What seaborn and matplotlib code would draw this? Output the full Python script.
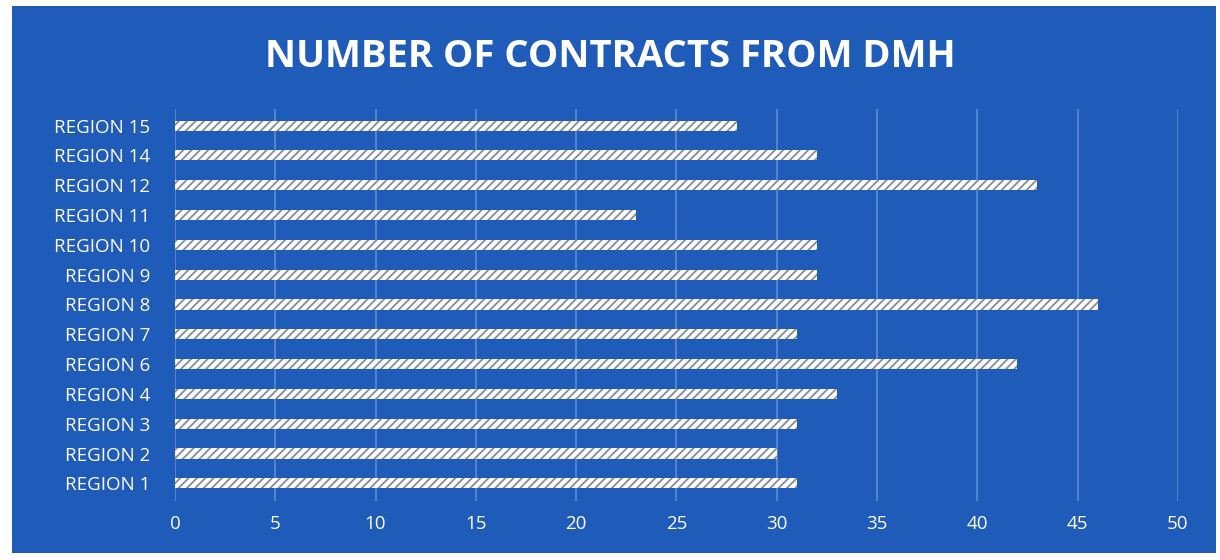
import matplotlib
matplotlib.use("Agg")
import matplotlib.pyplot as plt
import seaborn as sns
import pandas as pd
from matplotlib.patches import Rectangle

regions = ["REGION 15", "REGION 14", "REGION 12", "REGION 11", "REGION 10",
           "REGION 9", "REGION 8", "REGION 7", "REGION 6", "REGION 4",
           "REGION 3", "REGION 2", "REGION 1"]
contracts = [28, 32, 43, 23, 32, 32, 46, 31, 42, 33, 31, 30, 31]
x_ticks = [0, 5, 10, 15, 20, 25, 30, 35, 40, 45, 50]
title = "NUMBER OF CONTRACTS FROM DMH"

df = pd.DataFrame({"region": regions, "contracts": contracts})

BLUE = "#1f5bb8"
sns.set_theme(style="white")
plt.rcParams["font.family"] = ["Open Sans", "DejaVu Sans"]
plt.rcParams["hatch.linewidth"] = 1.3

fig = plt.figure(figsize=(12.2, 5.6), dpi=100, facecolor="white")
fig.patches.append(Rectangle((0.010, 0.012), 0.987, 0.978, transform=fig.transFigure,
                             facecolor=BLUE, edgecolor="none", zorder=-10))
ax = fig.add_axes([0.1434, 0.105, 0.822, 0.70])
ax.set_facecolor(BLUE)

sns.barplot(data=df, y="region", x="contracts", orient="h", ax=ax,
            color="white", width=0.34, saturation=1, order=regions)
for p in ax.patches:
    p.set_hatch("////")
    p.set_edgecolor("#858b9c")
    p.set_linewidth(0)

ax.set_xlim(0, 50)
ax.set_ylim(12.6, -0.55)
ax.set_xticks(x_ticks)
ax.set_xticklabels([str(t) for t in x_ticks], color="white", fontsize=13.5)
ax.set_yticklabels(regions, color="white", fontsize=13.5)
ax.tick_params(axis="both", length=0)
ax.tick_params(axis="y", pad=18)
ax.tick_params(axis="x", pad=10)
ax.set_xlabel("")
ax.set_ylabel("")
ax.grid(axis="x", color="#5f8fd8", linewidth=1.1)
ax.set_axisbelow(True)
for s in ax.spines.values():
    s.set_visible(False)

fig.text(0.5, 0.898, title, ha="center", va="center", color="white",
         fontsize=27.5, fontweight="bold")

fig.savefig("out.png", dpi=100, facecolor=fig.get_facecolor())
